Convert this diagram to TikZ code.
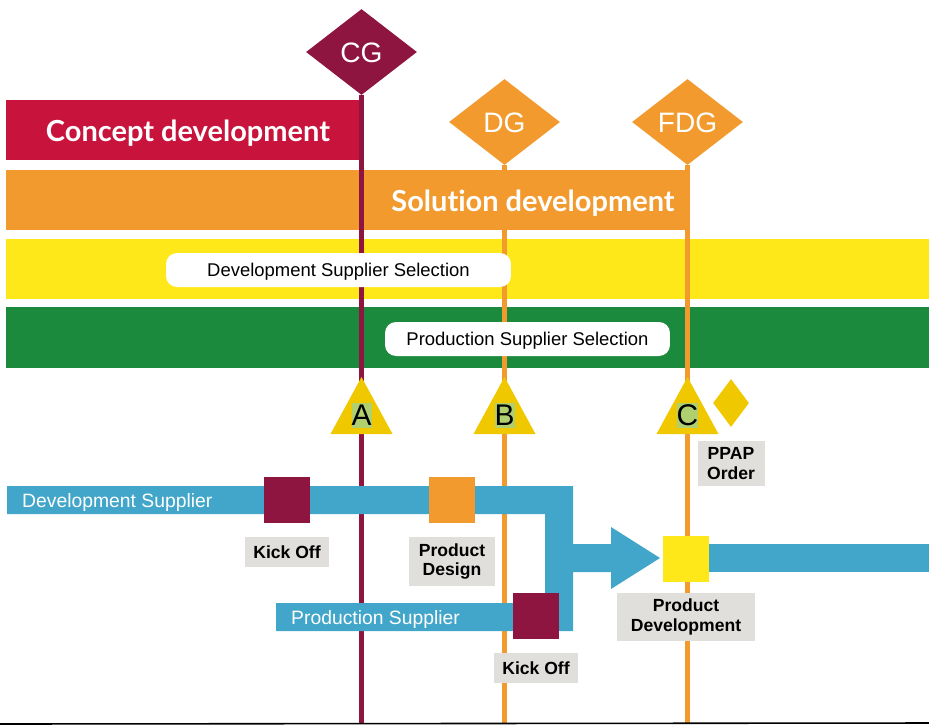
\documentclass[tikz,border=0pt]{standalone}
\usepackage{fontspec}
\setmainfont{Liberation Sans}
\newfontfamily\headfont{Lato}[Ligatures=NoCommon]
\usetikzlibrary{shapes.geometric,positioning}

\definecolor{conceptred}{RGB}{200,20,60}
\definecolor{gatemaroon}{RGB}{142,21,64}
\definecolor{solorange}{RGB}{242,154,46}
\definecolor{bandyellow}{RGB}{255,232,26}
\definecolor{bandgreen}{RGB}{28,138,60}
\definecolor{triyellow}{RGB}{240,200,0}
\definecolor{lettergreen}{RGB}{176,208,112}
\definecolor{supplierblue}{RGB}{65,166,201}
\definecolor{labelgrey}{RGB}{224,223,219}

\begin{document}
\begin{tikzpicture}[x=0.02cm, y=-0.02cm,
    gate/.style={diamond, inner sep=0pt, minimum width=2.22cm, minimum height=1.72cm, text=white, text height=1.25em, text depth=0pt, font=\fontsize{16}{16}\selectfont},
    gateline/.style={line width=2.3pt},
    pill/.style={fill=white, rounded corners=0.22cm, minimum height=0.68cm, text depth=0pt, font=\fontsize{10.5}{12}\selectfont},
    letterbox/.style={fill=lettergreen, inner sep=0pt, minimum width=0.4cm, minimum height=0.5cm, font=\fontsize{17}{17}\selectfont},
    milestone/.style={minimum size=0.92cm, inner sep=0pt},
    tag/.style={fill=labelgrey, align=center, inner xsep=0.16cm, inner ysep=0.13cm, minimum height=0.6cm, node distance=0.27cm, font=\bfseries\fontsize{10}{11}\selectfont},
    bartext/.style={text=white, anchor=west, text depth=0pt, font=\fontsize{11}{12}\selectfont},
    bandtitle/.style={text=white, text depth=0pt, font=\headfont\bfseries\fontsize{16.5}{18}\selectfont}
  ]
  \useasboundingbox (0,0) rectangle (929,724);
  \coordinate (bot) at (0,724);

  % phase bands
  \fill[conceptred] (6,100) rectangle (359,160);
  \fill[solorange] (6,170) rectangle (688,230);
  \fill[bandyellow] (6,239) rectangle (929,299);
  \fill[bandgreen] (6,307) rectangle (929,368);

  % gates
  \node[gate, fill=gatemaroon] (cg) at (361.5,52) {CG};
  \node[gate, fill=solorange] (dg) at (504.5,122) {DG};
  \node[gate, fill=solorange] (fdg) at (687.5,122) {FDG};
  \draw[gateline, gatemaroon] (cg.south) -- (cg.south |- bot);
  \draw[gateline, solorange] (dg.south) -- (dg.south |- bot);
  \draw[gateline, solorange] (fdg.south) -- (fdg.south |- bot);

  \node[bandtitle] (concept) at (188,131) {Concept development};
  \node[bandtitle] (solution) at (533,201) {Solution development};

  % supplier selection
  \node[pill, minimum width=6.9cm] (devsel) at (338.5,270) {Development Supplier Selection};
  \node[pill, minimum width=5.7cm] (prodsel) at (527.5,339) {Production Supplier Selection};

  % approval points
  \foreach \g/\n/\l in {cg/a/A, dg/b/B, fdg/c/C} {
    \coordinate (\n top) at (\g.south |- 0,377);
    \fill[triyellow] (\n top) -- ++(31,57) -- ++(-62,0) -- cycle;
    \node[letterbox] (\n) at (\g.south |- 0,415.5) {\l};
  }
  \node[diamond, fill=triyellow, inner sep=0pt, minimum width=0.72cm, minimum height=0.96cm] (ppap) at (731,403) {};
  \node[tag, below=of ppap, minimum width=1.34cm] (ppaptag) {PPAP\\Order};

  % supplier streams
  \fill[supplierblue] (7,486) -- (573,486) -- (573,544) -- (611,544) -- (611,527) -- (660,558)
    -- (611,589) -- (611,572) -- (573,572) -- (573,631) -- (276,631) -- (276,603)
    -- (545,603) -- (545,514) -- (7,514) -- cycle;
  \fill[supplierblue] (663,544) rectangle (929,572);
  \node[bartext] (devsup) at (16,500) {Development Supplier};
  \node[bartext] (prodsup) at (285,617) {Production Supplier};

  % milestones
  \node[milestone, fill=gatemaroon] (devkick) at (287,500) {};
  \node[milestone, fill=solorange] (design) at (452,500) {};
  \node[milestone, fill=gatemaroon] (prodkick) at (536,616) {};
  \node[milestone, fill=bandyellow] (proddev) at (686,559) {};
  \node[tag, below=of devkick, minimum width=1.66cm] (devkicktag) {Kick Off};
  \node[tag, below=of design, minimum width=1.72cm] (designtag) {Product\\Design};
  \node[tag, below=of prodkick, minimum width=1.66cm] (prodkicktag) {Kick Off};
  \node[tag, below=0.2cm of proddev, minimum width=2.76cm] (proddevtag) {Product\\Development};

  \draw[line width=0.9pt] (bot) -- (929,723);
\end{tikzpicture}
\end{document}
